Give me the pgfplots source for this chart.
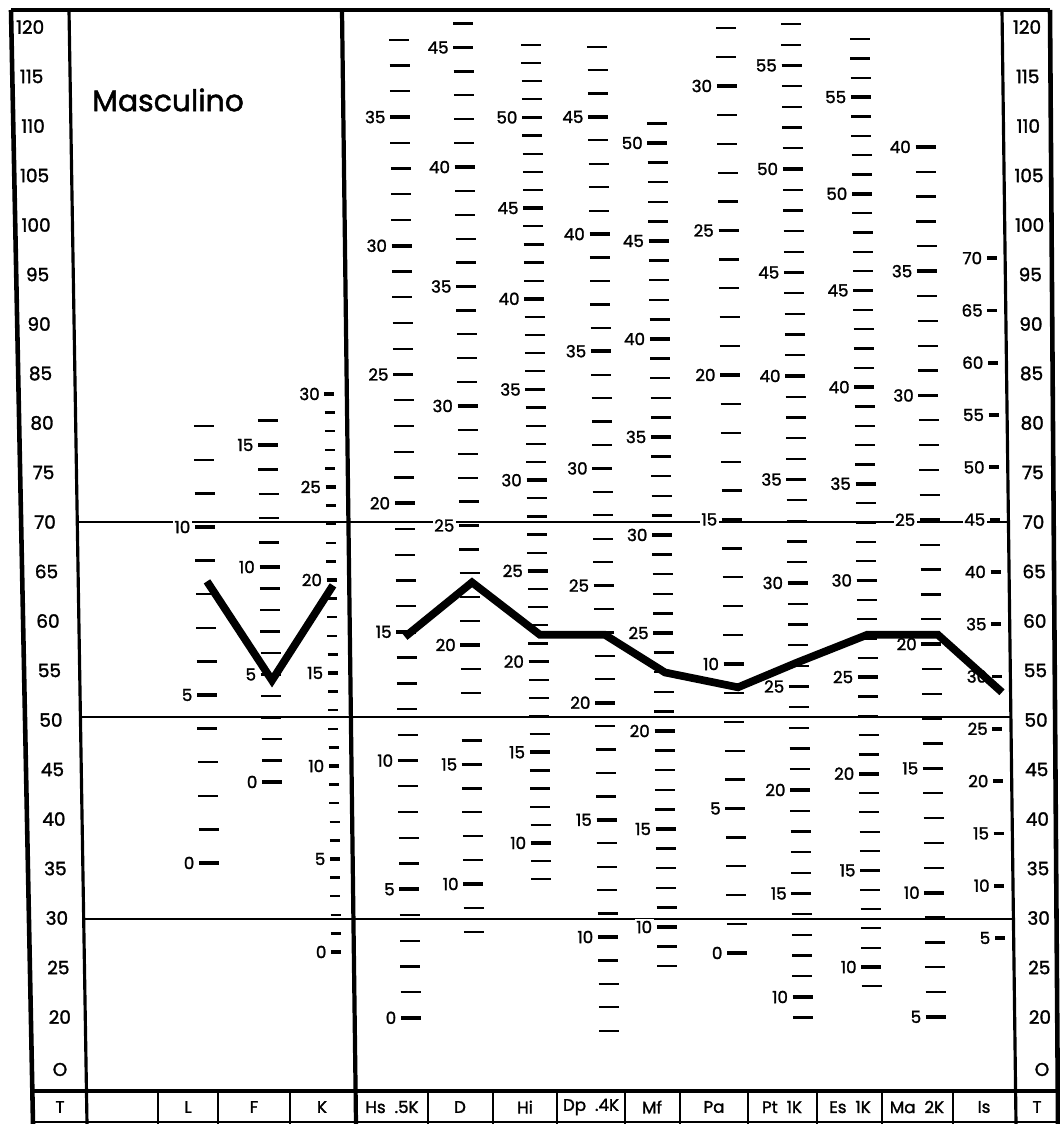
\documentclass[border=0pt]{standalone}
\usepackage{pgfplots}
\pgfplotsset{compat=1.18}
\usepackage{fontspec}
\setmainfont{Poppins}
\newfontfamily\heavy{Poppins}[FakeBold=1.6]

% pixel position on the scanned form -> axis (x in px, y in T units)
\newcommand\px[2]{(axis cs:{#1},{122.727-(#2)/9.9})}
\newcommand\lab{\heavy\fontsize{9.5}{10}\selectfont}
\newcommand\tl{\heavy\fontsize{10.5}{11}\selectfont}
% raw score column: x, y of raw 0, px per raw point, first, last, half width
\newcommand\scol[6]{\pgfplotsinvokeforeach{#4,...,#5}{%
  \draw[line width=1.3pt] \px{#1-#6+0.012*(#2-#3*##1-522)}{#2-#3*##1} -- \px{#1+#6+0.012*(#2-#3*##1-522)}{#2-#3*##1};}}
% numbered marks of a column: x, y of raw 0, px per raw point, list, half width
\newcommand\slab[5]{\pgfplotsinvokeforeach{#4}{%
  \node[anchor=east,fill=white,inner sep=0.8pt,font=\lab] at \px{#1-#5-3+0.012*(#2-#3*##1-522)}{#2-#3*##1} {##1};
  \draw[line width=2.1pt] \px{#1-#5+0.012*(#2-#3*##1-522)}{#2-#3*##1} -- \px{#1+#5+0.012*(#2-#3*##1-522)}{#2-#3*##1};}}

\begin{document}
\begin{tikzpicture}
\begin{axis}[
  width=21.2cm, height=22.48cm, scale only axis,
  xmin=0, xmax=1060, ymin=9.192, ymax=122.727,
  hide axis,
]
\path \px{0}{0} rectangle \px{1060}{1124};

% frame
\draw[line width=2.6pt] \px{11}{10} -- \px{1050}{10};
\draw[line width=2.6pt] \px{11}{10} -- \px{33}{1124};
\draw[line width=2.6pt] \px{1050}{10} -- \px{1058}{1124};
\draw[line width=1.2pt] \px{33}{1122} -- \px{1058}{1122};
\draw[line width=1.8pt] \px{69}{10} -- \px{87}{1124};
\draw[line width=2.4pt] \px{342}{10} -- \px{356}{1124};
\draw[line width=1.8pt] \px{1002}{10} -- \px{1016}{1124};
\draw[line width=2.2pt] \px{30}{1091} -- \px{1058}{1091};
\draw[line width=1.2pt] \px{77}{522} -- \px{1008}{522};
\draw[line width=1.2pt] \px{80}{717} -- \px{1011}{717};
\draw[line width=1.2pt] \px{83}{919} -- \px{1013}{919};
\pgfplotsinvokeforeach{158,218,290,428,493,557,625,680,748,817,882,953}{
  \draw[line width=1.6pt] \px{#1}{1091} -- \px{#1}{1124};}

% T scales
\pgfplotsinvokeforeach{20,25,...,120}{
  \node[font=\tl] at (axis cs:{30+0.03*((122.727-#1)*9.9-22)},#1) {#1};
  \node[font=\tl] at (axis cs:{1027+0.013*((122.727-#1)*9.9-22)},#1) {#1};}
\node[font=\tl] at (axis cs:60,14.7) {O};
\node[font=\tl] at (axis cs:1042,14.7) {O};

\node[font=\heavy\fontsize{17}{19}\selectfont, anchor=west] at \px{86}{100} {Masculino};

% raw score columns
\scol{205}{863}{33.6}{0}{13}{10}
\slab{205}{863}{33.6}{0,5,10}{10}
\scol{269}{782}{21.5}{0}{10}{10}
\scol{269}{811}{24.4}{11}{16}{10}
\slab{269}{782}{21.5}{0,5,10}{10}
\slab{269}{811}{24.4}{15}{10}
\scol{331}{952}{18.6}{0}{30}{5}
\slab{331}{952}{18.6}{0,5,...,30}{5}
\scol{405}{1018}{25.74}{0}{38}{10}
\slab{405}{1018}{25.74}{0,5,...,35}{10}
\scol{469}{1123}{23.9}{8}{46}{10}
\slab{469}{1123}{23.9}{10,15,...,45}{10}
\scol{537}{1024.4}{18.14}{8}{54}{10}
\slab{537}{1024.4}{18.14}{10,15,...,50}{10}
\scol{603}{1171.3}{23.43}{6}{48}{10}
\slab{603}{1171.3}{23.43}{10,15,...,45}{10}
\scol{662}{1123}{19.6}{8}{51}{10}
\slab{662}{1123}{19.6}{10,15,...,50}{10}
\scol{732}{953}{28.9}{0}{32}{10}
\slab{732}{953}{28.9}{0,5,...,30}{10}
\scol{797}{1204}{20.7}{9}{57}{10}
\slab{797}{1204}{20.7}{10,15,...,55}{10}
\scol{866}{1160.3}{19.33}{9}{58}{10}
\slab{866}{1160.3}{19.33}{10,15,...,55}{10}
\scol{930}{1141.3}{24.86}{5}{40}{10}
\slab{930}{1141.3}{24.86}{5,10,...,40}{10}
\slab{995}{990.3}{10.46}{5,10,...,70}{5}

% scale names
\node[font=\lab] at \px{60}{1107} {T};
\node[font=\lab] at \px{188}{1107} {L};
\node[font=\lab] at \px{254}{1107} {F};
\node[font=\lab] at \px{322}{1107} {K};
\node[font=\lab] at \px{392}{1107} {Hs\ \ .5K};
\node[font=\lab] at \px{460}{1107} {D};
\node[font=\lab] at \px{525}{1107} {Hi};
\node[font=\lab] at \px{591}{1107} {Dp\ \ .4K};
\node[font=\lab] at \px{652}{1107} {Mf};
\node[font=\lab] at \px{714}{1107} {Pa};
\node[font=\lab] at \px{782}{1107} {Pt\ \ 1K};
\node[font=\lab] at \px{850}{1107} {Es\ \ 1K};
\node[font=\lab] at \px{917}{1107} {Ma\ \ 2K};
\node[font=\lab] at \px{984}{1107} {Is};
\node[font=\lab] at \px{1037}{1107} {T};

% profile (T scores)
\addplot[black, line width=4.4pt, line join=miter] coordinates {
  (207,64.0) (272,54.0) (333,63.6)};
\addplot[black, line width=4.4pt, line join=miter] coordinates {
  (405,58.4) (472,63.9) (540,58.6) (605,58.6) (665,54.8) (738,53.3)
  (797,55.8) (867,58.6) (938,58.6) (1002,52.8)};
\end{axis}
\end{tikzpicture}
\end{document}
